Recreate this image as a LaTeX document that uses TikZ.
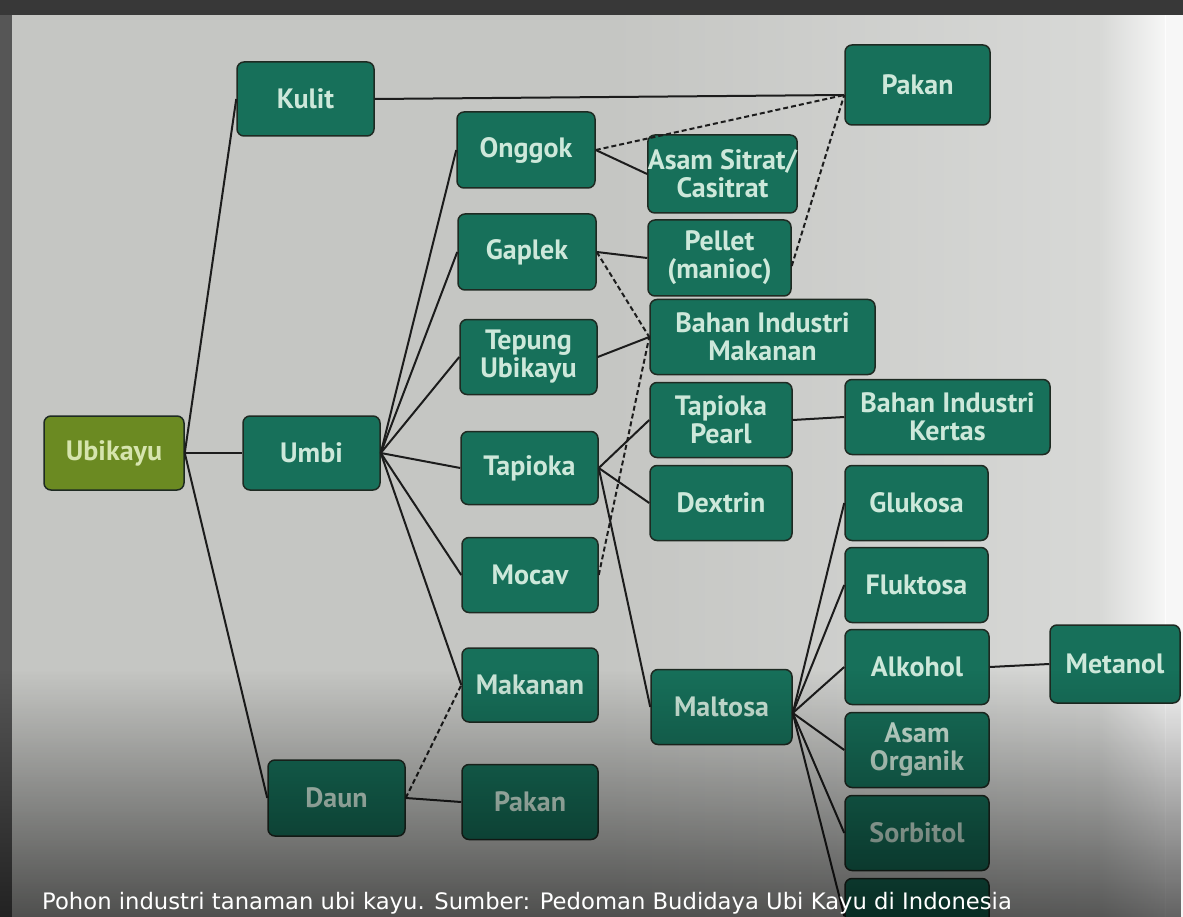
\documentclass[tikz,border=0pt]{standalone}
\usepackage{fontspec}
\setmainfont{PT Sans}
\newfontfamily\capfont{DejaVu Sans}
\usetikzlibrary{fadings}

\definecolor{pagegray}{HTML}{C5C6C3}
\definecolor{pagelight}{HTML}{D8D9D7}
\definecolor{framedark}{HTML}{383838}
\definecolor{boxteal}{HTML}{17705A}
\definecolor{boxolive}{HTML}{6B8A22}
\definecolor{boxedge}{HTML}{1E2A22}
\definecolor{boxtext}{HTML}{CDE8DA}
\definecolor{olivetext}{HTML}{D6E4AE}
\definecolor{wire}{HTML}{1C1C1C}

\tikzfading[name=fadeup, top color=transparent!100, bottom color=transparent!0]
\tikzfading[name=faderight, left color=transparent!100, right color=transparent!0]

\tikzset{
  prod/.style={rectangle, rounded corners=7pt, draw=boxedge, line width=1.5pt,
    fill=boxteal, text=boxtext, font=\bfseries\fontsize{28}{28}\selectfont,
    align=center, inner sep=0pt, minimum width=138pt, minimum height=75pt},
  rootbox/.style={prod, fill=boxolive, text=olivetext},
  link/.style={draw=wire, line width=2pt},
  dlink/.style={draw=wire, line width=2pt, dash pattern=on 5pt off 3pt},
}

\begin{document}
\begin{tikzpicture}[x=1pt, y=-1pt]
\useasboundingbox (0,0) rectangle (1183,917);

% page background, brighter toward the right edge
\fill[pagegray] (0,0) rectangle (1183,917);
\fill[pagelight, path fading=faderight] (600,0) rectangle (1101,917);
\fill[pagelight] (1100,0) rectangle (1183,917);
\fill[white, opacity=0.8, path fading=faderight] (1100,0) rectangle (1166,917);
\fill[white, opacity=0.8] (1165,0) rectangle (1183,917);

% viewer frame
\fill[framedark] (0,0) rectangle (1183,15);
\fill[framedark!85] (0,15) rectangle (12,917);

% nodes
\node[rootbox, minimum width=140pt, minimum height=74pt] (ubikayu) at (114,453) {Ubikayu};
\node[prod, minimum width=137pt, minimum height=74pt] (kulit) at (305.5,99) {Kulit};
\node[prod, minimum width=137pt, minimum height=74pt] (umbi) at (311.5,453) {Umbi};
\node[prod, minimum width=137pt, minimum height=76pt] (daun) at (336.5,798) {Daun};

\node[prod, minimum width=145pt, minimum height=80pt] (pakanA) at (917.5,85) {Pakan};
\node[prod, minimum height=76pt] (onggok) at (526,150) {Onggok};
\node[prod, minimum height=76pt] (gaplek) at (527,252) {Gaplek};
\node[prod, minimum width=137pt] (tepung) at (528.5,357) {Tepung\\Ubikayu};
\node[prod, minimum width=137pt, minimum height=73pt] (tapioka) at (529.5,468) {Tapioka};
\node[prod, minimum width=136pt] (mocav) at (530,575) {Mocav};
\node[prod, minimum width=136pt, minimum height=74pt] (makanan) at (530,685) {Makanan};
\node[prod, minimum width=136pt] (pakanB) at (530,802) {Pakan};

\node[prod, minimum width=149pt, minimum height=78pt] (sitrat) at (722.5,174) {Asam Sitrat/\\Casitrat};
\node[prod, minimum width=143pt, minimum height=76pt] (pellet) at (719.5,258) {Pellet\\(manioc)};
\node[prod, minimum width=225pt] (bim) at (762.5,337) {Bahan Industri\\Makanan};
\node[prod, minimum width=142pt] (tpearl) at (721,420) {Tapioka\\Pearl};
\node[prod, minimum width=142pt] (dextrin) at (721,503) {Dextrin};
\node[prod, minimum width=141pt] (maltosa) at (721.5,707) {Maltosa};

\node[prod, minimum width=205pt] (bik) at (947.5,417) {Bahan Industri\\Kertas};
\node[prod, minimum width=143pt] (glukosa) at (916.5,503) {Glukosa};
\node[prod, minimum width=143pt] (fluktosa) at (916.5,585) {Fluktosa};
\node[prod, minimum width=144pt] (alkohol) at (917,667) {Alkohol};
\node[prod, minimum width=144pt] (organik) at (917,750) {Asam\\Organik};
\node[prod, minimum width=144pt] (sorbitol) at (917,833) {Sorbitol};
\node[prod, minimum width=144pt] (lastbox) at (917,916) {};
\node[prod, minimum width=130pt, minimum height=78pt] (metanol) at (1115,664) {Metanol};

% connectors
\coordinate (pakanIn) at ([yshift=-10pt]pakanA.west);
\draw[link] (ubikayu.east) -- (kulit.west);
\draw[link] (ubikayu.east) -- (umbi.west);
\draw[link] (ubikayu.east) -- (daun.west);
\draw[link] (kulit.east) -- (pakanIn);

\foreach \t in {onggok, gaplek, tepung, tapioka, mocav, makanan}
  \draw[link] (umbi.east) -- (\t.west);

\draw[dlink] (onggok.east) -- (pakanIn);
\draw[link] (onggok.east) -- (sitrat.west);
\draw[link] (gaplek.east) -- (pellet.west);
\draw[dlink] (gaplek.east) -- (bim.west);
\draw[dlink] ([yshift=-8pt]pellet.east) -- (pakanIn);
\draw[link] (tepung.east) -- (bim.west);
\draw[dlink] (mocav.east) -- (bim.west);

\draw[link] (tapioka.east) -- (tpearl.west);
\draw[link] (tapioka.east) -- (dextrin.west);
\draw[link] (tapioka.east) -- (maltosa.west);
\draw[link] (tpearl.east) -- (bik.west);

\foreach \t in {glukosa, fluktosa, alkohol, organik, sorbitol, lastbox}
  \draw[link] ([yshift=-6pt]maltosa.east) -- (\t.west);
\draw[link] (alkohol.east) -- (metanol.west);

\draw[dlink] (daun.east) -- (makanan.west);
\draw[link] (daun.east) -- (pakanB.west);

% shadow toward the lower edge
\fill[black, opacity=0.6, path fading=fadeup] (0,670) rectangle (1183,917);

% caption
\node[anchor=base west, text=white, font=\capfont\fontsize{22.7}{26}\selectfont, inner sep=0pt] (caption) at (42,909)
  {Pohon industri tanaman ubi kayu. Sumber: Pedoman Budidaya Ubi Kayu di Indonesia};
\end{tikzpicture}
\end{document}
